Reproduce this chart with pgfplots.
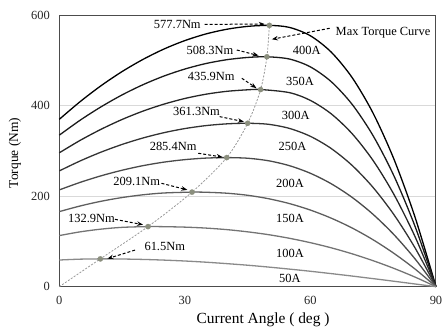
\documentclass[border=0pt]{standalone}
\usepackage{pgfplots}
\pgfplotsset{compat=1.18}
\usepackage{fontspec}
\setmainfont{Liberation Serif}
\usetikzlibrary{arrows.meta}
\definecolor{c400}{HTML}{000000}
\definecolor{c350}{HTML}{1A1A1A}
\definecolor{c300}{HTML}{262626}
\definecolor{c250}{HTML}{333333}
\definecolor{c200}{HTML}{4A4A4A}
\definecolor{c150}{HTML}{5F5F5F}
\definecolor{c100}{HTML}{747474}
\definecolor{c50}{HTML}{8A8A8A}
\definecolor{dotc}{HTML}{8B8F7E}
\begin{document}
\begin{tikzpicture}
\begin{axis}[
  at={(0,0)}, anchor=south west,
  scale only axis, width=376.7bp, height=271.4bp,
  xmin=0, xmax=90, ymin=0, ymax=600,
  xtick={0,30,60,90}, ytick={0,200,400,600},
  major tick length=0pt,
  ymajorgrids, grid style={draw=black!15, line width=0.8bp},
  axis line style={draw=black!70, line width=1bp},
  tick label style={font=\fontsize{12.5}{14}\selectfont, text=black!85},
  xticklabel style={yshift=-6bp},
  yticklabel style={xshift=-6bp},
  /pgf/number format/assume math mode=true,
  xlabel={Current Angle ( deg )}, ylabel={Torque (Nm)},
  xlabel style={font=\fontsize{15.5}{18}\selectfont, at={(axis description cs:0.541,-0.123)}, anchor=center},
  ylabel style={font=\fontsize{13.5}{16}\selectfont, at={(axis description cs:-0.1176,0.4926)}, anchor=center, rotate=0},
  clip=false,
  every axis plot/.append style={line width=1.3bp, smooth, tension=0.5, mark=none},
]
% 400A
\addplot[c400] coordinates {(0,370)(5,409.3)(10,444.5)(15,475.6)(20,502.5)(25,525.4)(30,544.1)(35,558.7)(40,569.1)(45,575.5)(50.2,577.7)(55,573.2)(60,554.7)(65,518.3)(70,461.8)(75,383.1)(80,280.8)(85,153.5)(90,0)};
% 350A
\addplot[c350] coordinates {(0,335)(5,368.2)(10,397.8)(15,424.0)(20,446.6)(25,465.7)(30,481.2)(35,493.3)(40,501.8)(45,506.8)(49.6,508.3)(55,503.3)(60,485.9)(65,453.0)(70,402.7)(75,333.4)(80,244.0)(85,133.2)(90,0)};
% 300A
\addplot[c300] coordinates {(0,296)(5,323.6)(10,348.1)(15,369.7)(20,388.2)(25,403.6)(30,416.1)(35,425.5)(40,431.9)(45,435.3)(48.1,435.9)(55,429.0)(60,411.8)(65,381.9)(70,337.9)(75,278.6)(80,203.1)(85,110.5)(90,0)};
% 250A
\addplot[c250] coordinates {(0,256)(5,278.1)(10,297.6)(15,314.5)(20,328.8)(25,340.5)(30,349.6)(35,356.1)(40,360.0)(45,361.3)(50,359.0)(55,349.9)(60,332.4)(65,305.3)(70,267.8)(75,219.1)(80,158.6)(85,85.7)(90,0)};
% 200A
\addplot[c200] coordinates {(0,214)(5,230.7)(10,245.2)(15,257.5)(20,267.6)(25,275.4)(30,280.9)(35,284.3)(40,285.4)(45,284.0)(50,278.4)(55,267.5)(60,250.7)(65,227.4)(70,197.2)(75,159.7)(80,114.6)(85,61.4)(90,0)};
% 150A
\addplot[c150] coordinates {(0,166)(5,178.5)(10,188.9)(15,197.1)(20,203.2)(25,207.2)(31.7,209.1)(35,208.8)(40,206.7)(45,202.1)(50,194.5)(55,183.7)(60,169.4)(65,151.4)(70,129.6)(75,103.6)(80,73.4)(85,39.0)(90,0)};
% 100A
\addplot[c100] coordinates {(0,113)(5,121.3)(10,127.3)(15,131.2)(21.2,132.9)(25,132.7)(30,131.7)(35,129.6)(40,126.2)(45,121.3)(50,115.0)(55,107.0)(60,97.3)(65,85.9)(70,72.6)(75,57.4)(80,40.3)(85,21.2)(90,0)};
% 50A
\addplot[c50] coordinates {(0,59)(5,60.9)(9.8,61.5)(15,61.2)(20,60.3)(25,58.8)(30,56.8)(35,54.2)(40,51.0)(45,47.5)(50,43.4)(55,38.9)(60,34.1)(65,28.9)(70,23.5)(75,17.8)(80,12.0)(85,6.0)(90,0)};
% max torque curve
\addplot[black!40, line width=0.8bp, dash pattern=on 2bp off 1.5bp] coordinates {(0,0)(9.8,61.5)(21.2,132.9)(31.7,209.1)(40,285.4)(45,361.3)(48.1,435.9)(49.6,508.3)(50.2,577.7)};
\addplot[only marks, mark=*, mark size=2.7bp, color=dotc, mark options={solid, draw=dotc, fill=dotc, line width=0.1bp}] coordinates {(9.8,61.5)(21.2,132.9)(31.7,209.1)(40,285.4)(45,361.3)(48.1,435.9)(49.6,508.3)(50.2,577.7)};

\begin{scope}[font=\fontsize{12.5}{14}\selectfont]
\node at (axis cs:59.1,523.3) {400A};
\node at (axis cs:57.5,453) {350A};
\node at (axis cs:56.5,379.6) {300A};
\node at (axis cs:55.7,309.5) {250A};
\node at (axis cs:55.1,228.6) {200A};
\node at (axis cs:55.1,151.2) {150A};
\node at (axis cs:55.1,73.8) {100A};
\node at (axis cs:55.1,18.6) {50A};
\node[anchor=west, inner sep=0pt] at (axis cs:66.0,562.5) {Max Torque Curve};
\node at (axis cs:28.2,578.6) {577.7Nm};
\node at (axis cs:36.0,521.8) {508.3Nm};
\node at (axis cs:36.3,464.3) {435.9Nm};
\node at (axis cs:32.8,386.9) {361.3Nm};
\node at (axis cs:27.2,309.5) {285.4Nm};
\node at (axis cs:18.5,232) {209.1Nm};
\node at (axis cs:7.7,151.2) {132.9Nm};
\node at (axis cs:25.2,88.4) {61.5Nm};
\end{scope}
\begin{scope}[line width=1bp, dash pattern=on 3bp off 2bp, -{Stealth[length=6bp,width=4.5bp]}]
\draw (axis cs:34.7,580) -- (axis cs:49.1,580.5);
\draw (axis cs:64.6,571.3) -- (axis cs:50.8,547);
\draw (axis cs:42.4,523.3) -- (axis cs:47.6,511);
\draw (axis cs:43.6,460.8) -- (axis cs:47.1,439);
\draw (axis cs:38.3,376) -- (axis cs:44.1,364.8);
\draw (axis cs:33.2,295) -- (axis cs:39.0,286.5);
\draw (axis cs:24.4,228.6) -- (axis cs:30.6,214);
\draw (axis cs:13.3,149) -- (axis cs:20.0,137);
\draw (axis cs:18.1,81) -- (axis cs:11.5,62);
\end{scope}
\end{axis}
\pgfresetboundingbox
\path[use as bounding box] (-59.3bp,-42.3bp) rectangle (384.7bp,286.7bp);
\end{tikzpicture}
\end{document}
